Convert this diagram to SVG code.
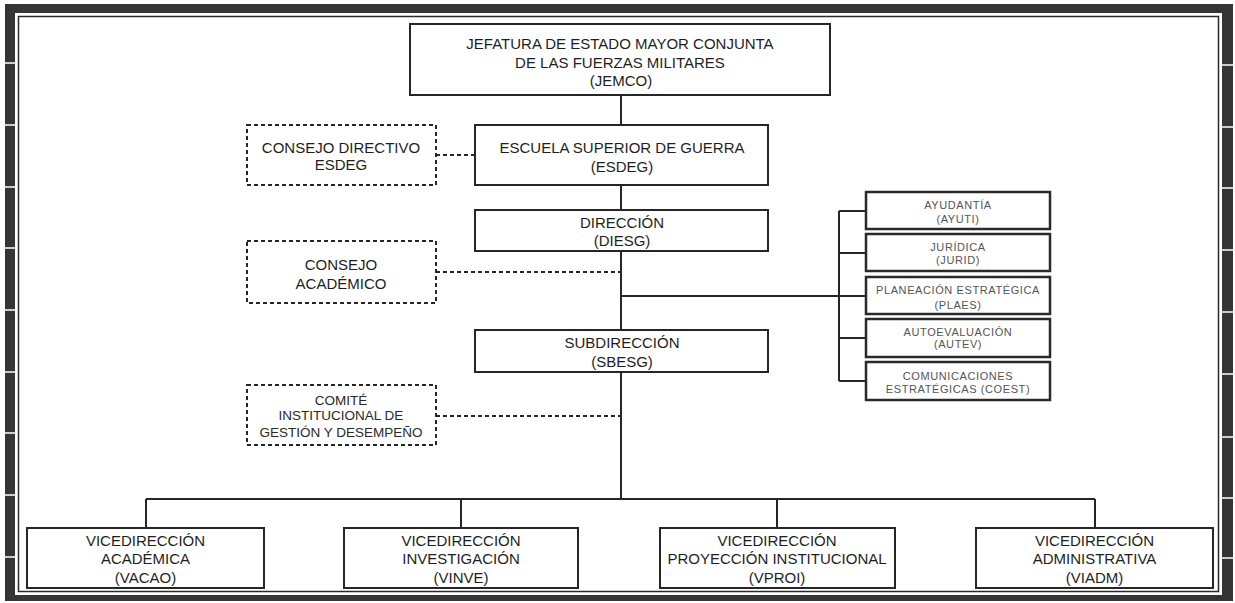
<svg xmlns="http://www.w3.org/2000/svg" width="1235" height="603" viewBox="0 0 1235 603">
<style>
  .box { fill: #ffffff; stroke: #262626; stroke-width: 2; }
  .dbox { fill: #ffffff; stroke: #262626; stroke-width: 2; stroke-dasharray: 4 3; }
  .sbox { fill: #ffffff; stroke: #2a2a2a; stroke-width: 2.5; }
  .t { font-family: "Liberation Sans", Arial, sans-serif; font-size: 15px; fill: #1e1e1e; text-anchor: middle; }
  .tc { font-family: "Liberation Sans", Arial, sans-serif; font-size: 13.5px; fill: #2a2a2a; text-anchor: middle; }
  .ts { font-family: "Liberation Sans", Arial, sans-serif; font-size: 11px; fill: #555555; text-anchor: middle; letter-spacing: 0.6px; }
  .ln { stroke: #262626; stroke-width: 2; fill: none; }
  .dl { stroke: #262626; stroke-width: 2; fill: none; stroke-dasharray: 4 3; }
  .tick { stroke: #ffffff; stroke-width: 1.5; }
</style>
<rect x="0" y="0" width="1235" height="603" fill="#ffffff"/>
<g id="frame">
  <path d="M5 4 H1233 V601 H5 Z M15 13 V595 H1222 V13 Z" fill="#353535" fill-rule="evenodd"/>
  <rect x="18.5" y="16.5" width="1200" height="575" fill="none" stroke="#2a2a2a" stroke-width="1.5"/>
  <g class="tick">
    <line x1="5" y1="63" x2="15" y2="63"/><line x1="5" y1="125" x2="15" y2="125"/>
    <line x1="5" y1="187" x2="15" y2="187"/><line x1="5" y1="248" x2="15" y2="248"/>
    <line x1="5" y1="310" x2="15" y2="310"/><line x1="5" y1="372" x2="15" y2="372"/>
    <line x1="5" y1="433" x2="15" y2="433"/><line x1="5" y1="495" x2="15" y2="495"/>
    <line x1="5" y1="557" x2="15" y2="557"/>
    <line x1="1222" y1="65" x2="1233" y2="65"/><line x1="1222" y1="127" x2="1233" y2="127"/>
    <line x1="1222" y1="188" x2="1233" y2="188"/><line x1="1222" y1="250" x2="1233" y2="250"/>
    <line x1="1222" y1="312" x2="1233" y2="312"/><line x1="1222" y1="374" x2="1233" y2="374"/>
    <line x1="1222" y1="437" x2="1233" y2="437"/><line x1="1222" y1="498" x2="1233" y2="498"/>
    <line x1="1222" y1="558" x2="1233" y2="558"/>
  </g>
</g>
<g id="connectors">
  <line class="ln" x1="621" y1="95" x2="621" y2="125"/>
  <line class="ln" x1="621" y1="185" x2="621" y2="210"/>
  <line class="ln" x1="621" y1="251" x2="621" y2="330"/>
  <line class="ln" x1="621" y1="372" x2="621" y2="499"/>
  <line class="ln" x1="621" y1="296" x2="866" y2="296"/>
  <line class="ln" x1="839" y1="211" x2="839" y2="381"/>
  <line class="ln" x1="839" y1="211" x2="866" y2="211"/>
  <line class="ln" x1="839" y1="253" x2="866" y2="253"/>
  <line class="ln" x1="839" y1="338" x2="866" y2="338"/>
  <line class="ln" x1="839" y1="381" x2="866" y2="381"/>
  <line class="dl" x1="436" y1="155" x2="475" y2="155"/>
  <line class="dl" x1="436" y1="272" x2="621" y2="272"/>
  <line class="dl" x1="436" y1="416" x2="621" y2="416"/>
  <line class="ln" x1="146" y1="499" x2="1095" y2="499"/>
  <line class="ln" x1="146" y1="499" x2="146" y2="528"/>
  <line class="ln" x1="461" y1="499" x2="461" y2="528"/>
  <line class="ln" x1="777" y1="499" x2="777" y2="528"/>
  <line class="ln" x1="1095" y1="499" x2="1095" y2="528"/>
</g>
<g id="jemco">
  <rect class="box" x="410" y="24" width="420" height="71"/>
  <text class="t" x="620" y="48.5">JEFATURA DE ESTADO MAYOR CONJUNTA</text>
  <text class="t" x="620" y="67.5">DE LAS FUERZAS MILITARES</text>
  <text class="t" x="621" y="85.5">(JEMCO)</text>
</g>
<g id="consejo-directivo">
  <rect class="dbox" x="247" y="125" width="189" height="60"/>
  <text class="t" x="341" y="152.5">CONSEJO DIRECTIVO</text>
  <text class="t" x="341" y="169.5">ESDEG</text>
</g>
<g id="esdeg">
  <rect class="box" x="475" y="125" width="293" height="60"/>
  <text class="t" x="622" y="152.5">ESCUELA SUPERIOR DE GUERRA</text>
  <text class="t" x="622" y="171.5">(ESDEG)</text>
</g>
<g id="diesg">
  <rect class="box" x="475" y="210" width="293" height="41"/>
  <text class="t" x="622" y="227.5">DIRECCIÓN</text>
  <text class="t" x="622" y="245.5">(DIESG)</text>
</g>
<g id="consejo-academico">
  <rect class="dbox" x="247" y="241" width="189" height="62"/>
  <text class="t" x="341" y="269.5">CONSEJO</text>
  <text class="t" x="341" y="288.5">ACADÉMICO</text>
</g>
<g id="sbesg">
  <rect class="box" x="475" y="330" width="293" height="42"/>
  <text class="t" x="622" y="347.5">SUBDIRECCIÓN</text>
  <text class="t" x="622" y="366.5">(SBESG)</text>
</g>
<g id="comite">
  <rect class="dbox" x="247" y="385" width="189" height="60"/>
  <text class="tc" x="341" y="404.5">COMITÉ</text>
  <text class="tc" x="341" y="420">INSTITUCIONAL DE</text>
  <text class="tc" x="341" y="437">GESTIÓN Y DESEMPEÑO</text>
</g>
<g id="ayuti">
  <rect class="sbox" x="866" y="192" width="184" height="37"/>
  <text class="ts" x="958" y="209">AYUDANTÍA</text>
  <text class="ts" x="958" y="222.5">(AYUTI)</text>
</g>
<g id="jurid">
  <rect class="sbox" x="866" y="234" width="184" height="37"/>
  <text class="ts" x="958" y="251">JURÍDICA</text>
  <text class="ts" x="958" y="264">(JURID)</text>
</g>
<g id="plaes">
  <rect class="sbox" x="866" y="277" width="184" height="37"/>
  <text class="ts" x="958" y="294">PLANEACIÓN ESTRATÉGICA</text>
  <text class="ts" x="958" y="308.5">(PLAES)</text>
</g>
<g id="autev">
  <rect class="sbox" x="866" y="319" width="184" height="38"/>
  <text class="ts" x="958" y="336">AUTOEVALUACIÓN</text>
  <text class="ts" x="958" y="348">(AUTEV)</text>
</g>
<g id="coest">
  <rect class="sbox" x="866" y="362" width="184" height="38"/>
  <text class="ts" x="958" y="380">COMUNICACIONES</text>
  <text class="ts" x="958" y="393">ESTRATÉGICAS (COEST)</text>
</g>
<g id="vacao">
  <rect class="box" x="27" y="528" width="237" height="60"/>
  <text class="t" x="145.5" y="545.5">VICEDIRECCIÓN</text>
  <text class="t" x="145.5" y="563.5">ACADÉMICA</text>
  <text class="t" x="145.5" y="582.5">(VACAO)</text>
</g>
<g id="vinve">
  <rect class="box" x="344" y="528" width="234" height="60"/>
  <text class="t" x="461" y="545.5">VICEDIRECCIÓN</text>
  <text class="t" x="461" y="563.5">INVESTIGACIÓN</text>
  <text class="t" x="461" y="582.5">(VINVE)</text>
</g>
<g id="vproi">
  <rect class="box" x="660" y="528" width="235" height="60"/>
  <text class="t" x="777" y="545.5">VICEDIRECCIÓN</text>
  <text class="t" x="777" y="563.5">PROYECCIÓN INSTITUCIONAL</text>
  <text class="t" x="777" y="582.5">(VPROI)</text>
</g>
<g id="viadm">
  <rect class="box" x="976" y="528" width="237" height="60"/>
  <text class="t" x="1094.5" y="545.5">VICEDIRECCIÓN</text>
  <text class="t" x="1094.5" y="563.5">ADMINISTRATIVA</text>
  <text class="t" x="1094.5" y="582.5">(VIADM)</text>
</g>
</svg>
